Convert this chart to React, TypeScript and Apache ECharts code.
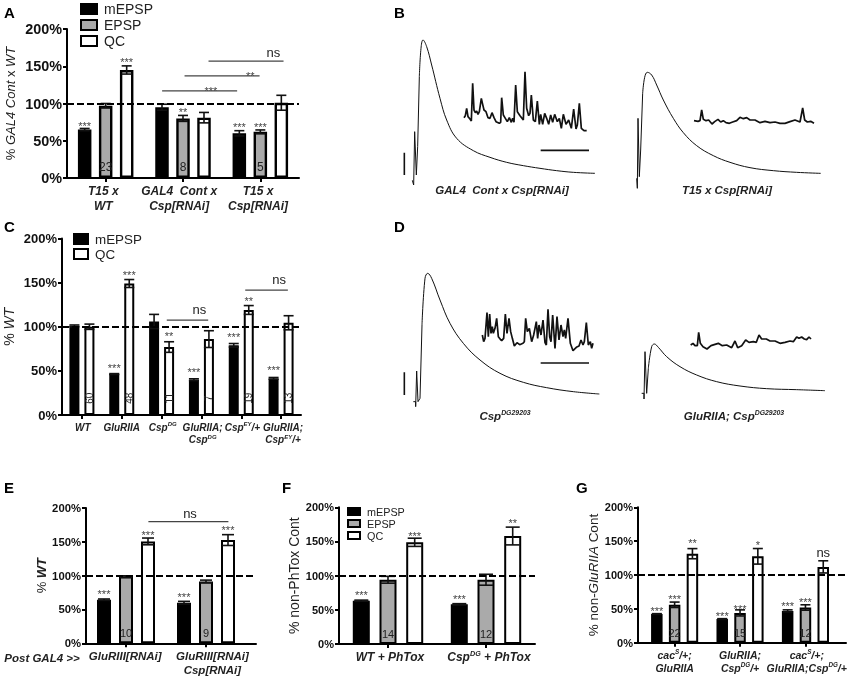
import { useEffect, useRef } from "react";
import * as echarts from "echarts";

const FONT = "Liberation Sans";
const TEXT = "#222";
const COLORS: Record<string, string> = { mEPSP: "#000", EPSP: "#a9aaad", QC: "#fff" };

// panel A
const aMepsp = [65, 95, 60];
const aEpsp = [97, 80, 62];
const aQc = [145, 81, 101];
const aMepspErr = [1.5, 4, 3.5];
const aEpspErr = [3, 4, 2.5];
const aQcErr = [5.5, 7, 10];
const aN = [["23", 0, 1], ["8", 1, 1], ["5", 2, 1]];
const aStars = [["***", 0, 0, 73], ["***", 0, 2, 159], ["**", 1, 1, 91], ["***", 2, 0, 71], ["***", 2, 1, 71]];
const aBrackets = [[0.73, 1.7, 117, "***", 1.36], [1.02, 1.99, 137, "**", 1.87], [1.33, 2.3, 157, "ns", 2.17]];
const aLabels = ["{b|T15 x}\n{b|WT}", "{b|GAL4  Cont x}\n{b|Csp[RNAi]}", "{b|T15 x}\n{b|Csp[RNAi]}"];

// panel C
const cMepsp = [101, 46.4, 106, 40, 79, 41.5];
const cQc = [100, 149, 77, 86, 119, 104.5];
const cMepspErr = [1, 0.5, 8, 1, 2, 1];
const cQcErr = [3, 4.5, 6, 9.5, 5, 8];
const cN = [["60", 0, 1], ["48", 1, 1], ["11", 2, 1], ["7", 3, 1], ["19", 4, 1], ["13", 5, 1]];
const cStars = [["***", 1, 0, 55], ["***", 1, 1, 161], ["**", 2, 1, 92], ["***", 3, 0, 51], ["***", 4, 0, 91], ["**", 4, 1, 132], ["***", 5, 0, 53]];
const cBrackets = [[2.13, 3.17, 107.5, "ns", 2.95], [4.1, 5.17, 141.5, "ns", 4.95]];
const cLabels = ["{b|WT}", "{b|GluRIIA}", "{b|Csp}{s|DG}", "{b|GluRIIA;}\n{b|Csp}{s|DG}", "{b|Csp}{s|EY}{b|/+}", "{b|GluRIIA;}\n{b|Csp}{s|EY}{b|/+}"];

// panel E
const eMepsp = [64.5, 60];
const eEpsp = [98.8, 91.4];
const eQc = [150.6, 152.6];
const eMepspErr = [1, 2];
const eEpspErr = [1, 2];
const eQcErr = [5, 8];
const eN = [["10", 0, 1], ["9", 1, 1]];
const eStars = [["***", 0, 0, 76], ["***", 1, 0, 71.6], ["***", 0, 2, 163], ["***", 1, 2, 170]];
const eBrackets = [[0.28, 1.28, 180, "ns", 0.8]];
const eLabels = ["{b|GluRIII[RNAi]}", "{b|GluRIII[RNAi]}\n{b|Csp[RNAi]}"];

// panel F
const fMepsp = [63.4, 58];
const fEpsp = [94, 94];
const fQc = [148.8, 158];
const fMepspErr = [0.8, 1];
const fEpspErr = [5, 8];
const fQcErr = [6, 13];
const fN = [["14", 0, 1], ["12", 1, 1]];
const fStars = [["***", 0, 0, 75], ["***", 1, 0, 69], ["***", 0, 2, 161], ["**", 1, 2, 180]];
const fLabels = ["{b|WT + PhTox}", "{b|Csp}{s|DG}{b| + PhTox}"];

// panel G
const gMepsp = [42.4, 35, 47];
const gEpsp = [56, 44, 52];
const gQc = [131.5, 127.6, 112];
const gMepspErr = [0.5, 0.5, 1.5];
const gEpspErr = [4, 4.5, 4];
const gQcErr = [7.5, 11.5, 9];
const gN = [["22", 0, 1], ["15", 1, 1], ["12", 2, 1]];
const gStars = [["***", 0, 0, 50], ["***", 1, 0, 42], ["***", 2, 0, 56.6], ["***", 0, 1, 68], ["***", 1, 1, 53], ["***", 2, 1, 63.5], ["**", 0, 2, 150], ["*", 1, 2, 147]];
const gNs = [["ns", 2, 2, 133.5]];
const gLabels = ["{b|cac}{s|S}{b|/+;}\n{b|GluRIIA}", "{b|GluRIIA;}\n{b|Csp}{s|DG}{b|/+}", "{b|cac}{s|S}{b|/+;}\n{b|GluRIIA;Csp}{s|DG}{b|/+}"];

const traceB1 = [[67, 541], [71, 555], [74, 395], [79, 525], [83, 440], [88, 230]];
const decayB1 = [[88, 230], [93, 145], [99, 120], [110, 140], [125, 195], [150, 295], [170, 360], [200, 415], [250, 452], [300, 472], [350, 487], [400, 497], [450, 505], [500, 512], [550, 517], [615, 520]];
const traceB2 = [[740, 535], [742, 565], [744, 355], [748, 530], [752, 450], [758, 280]];
const decayB2 = [[758, 280], [764, 232], [772, 217], [785, 225], [800, 255], [820, 300], [850, 355], [880, 398], [920, 437], [970, 467], [1020, 487], [1080, 503], [1150, 512], [1220, 517], [1292, 520]];
const traceD1 = [[70, 530], [77, 530], [77, 545], [80, 438], [84, 530], [90, 520], [96, 300]];
const decayD1 = [[96, 300], [105, 160], [113, 145], [125, 160], [150, 225], [180, 295], [220, 355], [270, 405], [330, 445], [400, 472], [470, 488], [550, 500], [628, 507]];
const traceD2 = [[755, 505], [762, 505], [762, 522], [765, 380], [770, 505], [775, 430]];
const decayD2 = [[775, 430], [785, 365], [793, 357], [805, 367], [830, 395], [870, 425], [920, 450], [980, 470], [1050, 483], [1130, 491], [1220, 494], [1305, 497]];

const miniB1 = [[12, 158], [16, 152], [20, 130], [24, 155], [30, 162], [34, 168], [38, 55], [42, 135], [46, 143], [50, 138], [54, 148], [58, 140], [64, 100], [68, 118], [72, 135], [78, 140], [84, 158], [90, 160], [96, 143], [102, 158], [108, 170], [118, 175], [122, 172], [125, 98], [130, 150], [136, 160], [142, 170], [148, 158], [154, 172], [158, 160], [162, 172], [167, 60], [172, 140], [180, 152], [190, 165], [195, 20], [200, 130], [206, 152], [210, 145], [214, 90], [220, 165], [226, 170], [232, 108], [238, 178], [242, 148], [248, 178], [254, 145], [260, 160], [266, 178], [272, 150], [278, 172], [284, 148], [292, 170], [298, 160], [304, 190], [310, 148], [318, 178], [326, 165], [334, 190], [341, 132], [348, 192], [352, 180], [358, 115], [364, 190], [372, 197], [380, 197]];
const miniB2 = [[12, 62], [24, 64], [30, 62], [35, 30], [40, 58], [48, 62], [56, 60], [66, 72], [74, 65], [84, 58], [92, 66], [100, 62], [108, 68], [118, 70], [128, 66], [140, 62], [150, 52], [160, 56], [170, 53], [180, 60], [195, 60], [210, 68], [225, 64], [240, 68], [255, 66], [270, 70], [285, 70], [300, 65], [315, 60], [330, 66], [338, 24], [344, 60], [352, 66], [362, 64], [372, 70]];
const miniD1 = [[22, 105], [26, 125], [30, 115], [36, 38], [40, 110], [44, 42], [48, 100], [52, 80], [55, 100], [60, 85], [65, 55], [70, 110], [76, 118], [80, 122], [86, 115], [91, 42], [96, 100], [102, 55], [107, 95], [112, 115], [118, 138], [126, 128], [134, 134], [144, 130], [148, 125], [152, 55], [157, 95], [163, 85], [170, 125], [176, 105], [180, 85], [184, 65], [188, 115], [192, 75], [198, 105], [204, 60], [210, 128], [214, 135], [219, 28], [224, 110], [228, 125], [233, 45], [240, 145], [246, 50], [252, 120], [258, 75], [264, 110], [268, 90], [272, 115], [279, 55], [286, 130], [294, 152], [304, 142], [312, 138], [318, 120], [324, 135], [328, 125], [334, 68], [340, 135], [346, 125], [350, 145], [354, 130]];
const miniD2 = [[17, 60], [24, 55], [30, 62], [37, 62], [41, 22], [46, 55], [54, 65], [66, 72], [78, 62], [90, 58], [100, 55], [112, 62], [125, 60], [140, 68], [150, 48], [158, 68], [170, 62], [182, 45], [192, 52], [205, 50], [214, 52], [222, 30], [230, 42], [244, 42], [255, 48], [270, 48], [285, 55], [300, 52], [315, 48], [325, 50], [335, 36], [342, 40], [350, 36], [358, 42], [365, 44], [372, 36], [378, 42]];

const shift = (pts: number[][], dx: number, dy: number) => pts.map((p) => [p[0] + dx, p[1] + dy]);

const rich = (size: number) => ({
  b: { fontFamily: FONT, fontWeight: "bold", fontStyle: "italic", fontSize: size, color: TEXT, lineHeight: size + 2.5 },
  s: { fontFamily: FONT, fontWeight: "bold", fontStyle: "italic", fontSize: size * 0.6, color: TEXT, verticalAlign: "top", lineHeight: size + 2.5 },
  r: { fontFamily: FONT, fontSize: size, color: TEXT },
  i: { fontFamily: FONT, fontStyle: "italic", fontSize: size, color: TEXT },
  ib: { fontFamily: FONT, fontStyle: "italic", fontWeight: "bold", fontSize: size, color: TEXT },
});

type Panel = {
  box: number[]; // left, right, top, bottom
  range: number[];
  names: string[];
  values: number[][];
  errs: number[][];
  spacing: number; // px between bars
  barWidth: number;
  border: number;
  capHalf: number;
  tickSize: number;
  labelSize: number;
  labels: string[];
  labelAt: number[];
  yName: string;
  yNameSize: number;
  yNameGap: number;
  nums: any[];
  numSize: number;
  numRotate?: boolean;
  stars: any[];
  brackets?: any[];
  extraNs?: any[];
};

const panels: Panel[] = [
  {
    box: [67, 299, 29, 178], range: [-0.5, 2.5], names: ["mEPSP", "EPSP", "QC"],
    values: [aMepsp, aEpsp, aQc], errs: [aMepspErr, aEpspErr, aQcErr],
    spacing: 21, barWidth: 13.5, border: 2.4, capHalf: 5, tickSize: 14.4, labelSize: 12, labels: aLabels, labelAt: [-0.03, -0.05, -0.03],
    yName: "{r|% }{i|GAL4 Cont}{r| x }{i|WT}", yNameSize: 13, yNameGap: 50,
    nums: aN, numSize: 12, stars: aStars, brackets: aBrackets,
  },
  {
    box: [62, 301, 238.5, 415], range: [-0.5, 5.5], names: ["mEPSP", "QC"],
    values: [cMepsp, cQc], errs: [cMepspErr, cQcErr],
    spacing: 15, barWidth: 10, border: 2, capHalf: 5, tickSize: 13, labelSize: 10, labels: cLabels, labelAt: [0.02, 0, 0.03, 0.03, 0.03, 0.05],
    yName: "{r|% }{i|WT}", yNameSize: 14, yNameGap: 46,
    nums: cN, numSize: 10, numRotate: true, stars: cStars, brackets: cBrackets,
  },
  {
    box: [86, 256, 508, 643.3], range: [-0.5, 1.625], names: ["mEPSP", "EPSP", "QC"],
    values: [eMepsp, eEpsp, eQc], errs: [eMepspErr, eEpspErr, eQcErr],
    spacing: 22, barWidth: 14, border: 2, capHalf: 6, tickSize: 11.3, labelSize: 11.5, labels: eLabels, labelAt: [-0.01, 0.08],
    yName: "{r|% }{ib|WT}", yNameSize: 13, yNameGap: 38,
    nums: eN, numSize: 11, stars: eStars, brackets: eBrackets,
  },
  {
    box: [339, 535, 507.3, 644], range: [-0.5, 1.5], names: ["mEPSP", "EPSP", "QC"],
    values: [fMepsp, fEpsp, fQc], errs: [fMepspErr, fEpspErr, fQcErr],
    spacing: 26.7, barWidth: 17, border: 2, capHalf: 7, tickSize: 11, labelSize: 12, labels: fLabels, labelAt: [0.02, 0.03],
    yName: "{r|% non-PhTox Cont}", yNameSize: 14, yNameGap: 38,
    nums: fN, numSize: 11, stars: fStars,
  },
  {
    box: [638, 846, 507.3, 642.7], range: [-0.56, 2.62], names: ["mEPSP", "EPSP", "QC"],
    values: [gMepsp, gEpsp, gQc], errs: [gMepspErr, gEpspErr, gQcErr],
    spacing: 17.8, barWidth: 11.5, border: 2, capHalf: 5, tickSize: 11, labelSize: 10.5, labels: gLabels, labelAt: [0, 0, 0.02],
    yName: "{r|% non-}{i|GluRIIA}{r| Cont}", yNameSize: 13.5, yNameGap: 36,
    nums: gN, numSize: 11, stars: gStars, extraNs: gNs,
  },
];

const legendItem = (name: string) => ({
  name,
  icon: "rect",
  itemStyle: { color: COLORS[name], borderColor: "#000", borderWidth: 2 },
});

function buildOption() {
  const grid: any[] = [];
  const xAxis: any[] = [];
  const yAxis: any[] = [];
  const series: any[] = [];

  panels.forEach((p, k) => {
    const [left, right, top, bottom] = p.box;
    // outerBoundsMode none: keep the grid where it is asked to be
    grid.push({ left, top, width: right - left, height: bottom - top, outerBoundsMode: "none" });
    const catPx = (right - left) / (p.range[1] - p.range[0]);
    const n = p.names.length;
    const barX = (x: number, i: number) => x + ((i - (n - 1) / 2) * p.spacing) / catPx;
    const ticks = p.values[0].map((_, i) => i);
    const labelValues = p.labelAt.map((d, i) => i + d);

    xAxis.push({
      gridIndex: k, type: "value", min: p.range[0], max: p.range[1],
      splitLine: { show: false },
      axisLine: { onZero: false, lineStyle: { color: "#000", width: 2 } },
      axisTick: { customValues: ticks, length: 4, lineStyle: { color: "#000", width: 2 } },
      axisLabel: {
        customValues: labelValues,
        hideOverlap: false, margin: 6, rich: rich(p.labelSize),
        formatter: (v: number) => p.labels[labelValues.findIndex((l) => Math.abs(l - v) < 1e-6)] ?? "",
      },
    });
    yAxis.push({
      gridIndex: k, type: "value", min: 0, max: 200, interval: 50,
      name: p.yName, nameLocation: "middle", nameRotate: 90, nameGap: p.yNameGap,
      nameTextStyle: { rich: rich(p.yNameSize) },
      splitLine: { show: false },
      axisLine: { show: true, onZero: false, lineStyle: { color: "#000", width: 2 } },
      axisTick: { show: true, length: 4, lineStyle: { color: "#000", width: 2 } },
      axisLabel: {
        formatter: "{value}%", margin: 5, color: "#111",
        fontFamily: FONT, fontWeight: "bold", fontSize: p.tickSize,
      },
    });

    p.names.forEach((name, i) => {
      series.push({
        type: "bar", name, xAxisIndex: k, yAxisIndex: k,
        data: p.values[i].map((v, j) => [j, v]),
        barWidth: p.barWidth,
        barGap: `${((p.spacing - p.barWidth) / p.barWidth) * 100}%`,
        itemStyle: { color: COLORS[name], borderColor: "#000", borderWidth: p.border },
        markLine: i === 0 ? {
          silent: true, symbol: "none", label: { show: false },
          lineStyle: { color: "#000", width: 2, type: [7, 3] },
          data: [{ yAxis: 100 }],
        } : undefined,
      });

      // error bars sit on the same value axes as the bars
      const errRows = p.values[i].map((v, j) => [barX(j, i), v - p.errs[i][j], v + p.errs[i][j]]);
      series.push({
        type: "custom", xAxisIndex: k, yAxisIndex: k, z: 4, silent: true,
        data: errRows, encode: { x: 0, y: [1, 2] },
        renderItem: (_: any, api: any) => {
          const a = api.coord([api.value(0), api.value(1)]);
          const b = api.coord([api.value(0), api.value(2)]);
          const st = { stroke: "#111", lineWidth: 1.6, fill: "none" };
          const c = p.capHalf;
          return {
            type: "group",
            children: [
              { type: "line", shape: { x1: a[0], y1: a[1], x2: b[0], y2: b[1] }, style: st },
              { type: "line", shape: { x1: a[0] - c, y1: a[1], x2: a[0] + c, y2: a[1] }, style: st },
              { type: "line", shape: { x1: b[0] - c, y1: b[1], x2: b[0] + c, y2: b[1] }, style: st },
            ],
          };
        },
      });
    });

    const textSeries = (rows: number[][], texts: string[], style: any, rotate = false) => ({
      type: "custom", xAxisIndex: k, yAxisIndex: k, z: 5, silent: true,
      data: rows, encode: { x: 0, y: 1 },
      renderItem: (params: any, api: any) => {
        const c = api.coord([api.value(0), api.value(1)]);
        return {
          type: "text", x: c[0], y: c[1] + (style.dy || 0), rotation: rotate ? Math.PI / 2 : 0,
          style: { text: texts[params.dataIndex], align: "center", verticalAlign: "middle", fontFamily: FONT, fill: style.fill, fontSize: style.size },
        };
      },
    });

    series.push(textSeries(
      p.stars.map((s) => [barX(s[1], s[2]), s[3]]), p.stars.map((s) => s[0]),
      { size: 11, fill: "#444", dy: 2 },
    ));
    series.push(textSeries(
      p.nums.map((s) => [barX(s[1], s[2]), p.numRotate ? 19 : 15]), p.nums.map((s) => s[0]),
      { size: p.numSize, fill: "#222" }, p.numRotate,
    ));
    if (p.extraNs) {
      series.push(textSeries(
        p.extraNs.map((s) => [barX(s[1], s[2]), s[3]]), p.extraNs.map((s) => s[0]),
        { size: 13, fill: TEXT },
      ));
    }
    if (p.brackets) {
      const ns = p.brackets.filter((b) => b[3] === "ns");
      const sig = p.brackets.filter((b) => b[3] !== "ns");
      series.push({
        type: "custom", xAxisIndex: k, yAxisIndex: k, z: 4, silent: true,
        data: p.brackets.map((b) => [b[0], b[1], b[2]]), encode: { x: [0, 1], y: 2 },
        renderItem: (_: any, api: any) => {
          const a = api.coord([api.value(0), api.value(2)]);
          const b = api.coord([api.value(1), api.value(2)]);
          return { type: "line", shape: { x1: a[0], y1: a[1], x2: b[0], y2: b[1] }, style: { stroke: "#444", lineWidth: 1.3 } };
        },
      });
      series.push(textSeries(ns.map((b) => [b[4], b[2] + 12]), ns.map((b) => b[3]), { size: 13, fill: TEXT }));
      series.push(textSeries(sig.map((b) => [b[4], b[2] + 3]), sig.map((b) => b[3]), { size: 11, fill: "#444", dy: 2 }));
    }
  });

  // traces: one grid for B, one for D, axes hidden
  const traceGrids = [
    { top: 0, lines: [traceB1, traceB2], decays: [decayB1, decayB2], minis: [shift(miniB1, 210, 195), shift(miniB2, 900, 300)], scale: [[[43, 458], [43, 525]], [[452, 451], [597, 451]]] },
    { top: 225, lines: [traceD1, traceD2], decays: [decayD1, decayD2], minis: [shift(miniD1, 255, 225), shift(miniD2, 885, 300)], scale: [[[43, 442], [43, 510]], [[452, 414], [597, 414]]] },
  ];
  traceGrids.forEach((t, i) => {
    const k = panels.length + i;
    grid.push({ left: 390, top: t.top, width: 460, height: 215, outerBoundsMode: "none" });
    xAxis.push({ gridIndex: k, type: "value", min: 0, max: 1380, show: false });
    yAxis.push({ gridIndex: k, type: "value", min: 0, max: 645, inverse: true, show: false });
    const line = (data: number[][], width: number, smooth: any = false) => ({
      type: "line", xAxisIndex: k, yAxisIndex: k, data, smooth, symbol: "none", silent: true,
      lineStyle: { color: "#111", width },
    });
    t.lines.forEach((d) => series.push(line(d, 1)));
    t.decays.forEach((d) => series.push(line(d, 1, 0.4)));
    t.minis.forEach((d) => series.push(line(d, 1.7)));
    t.scale.forEach((d) => series.push(line(d, 1.6)));
  });

  const legend = [
    { left: 80, top: 2, itemWidth: 16, itemHeight: 10, itemGap: 2, names: ["mEPSP", "EPSP", "QC"], size: 14 },
    { left: 73, top: 232.5, itemWidth: 14, itemHeight: 10, itemGap: 2, names: ["mEPSP", "QC"], size: 13.4 },
    { left: 347, top: 506, itemWidth: 12, itemHeight: 7, itemGap: 1, names: ["mEPSP", "EPSP", "QC"], size: 10.8 },
  ].map((l) => ({
    orient: "vertical", left: l.left, top: l.top, padding: 0, selectedMode: false,
    itemWidth: l.itemWidth, itemHeight: l.itemHeight, itemGap: l.itemGap,
    data: l.names.map(legendItem),
    textStyle: { fontFamily: FONT, fontSize: l.size, color: TEXT, padding: [0, 0, 0, 2] },
  }));

  const letter = (text: string, x: number, y: number) => ({
    type: "text", x, y, style: { text, fontFamily: FONT, fontWeight: "bold", fontSize: 15, fill: "#000", verticalAlign: "middle" },
  });
  const caption = (text: string, x: number, y: number, size = 11.5) => ({
    type: "text", x, y, style: { text, rich: rich(size), fontFamily: FONT, fontWeight: "bold", fontStyle: "italic", fontSize: size, fill: TEXT, align: "center", verticalAlign: "middle" },
  });
  const graphic = [
    letter("A", 4, 12), letter("B", 394, 12), letter("C", 4, 226), letter("D", 394, 226),
    letter("E", 4, 487), letter("F", 282, 487), letter("G", 576, 487),
    caption("{b|GAL4  Cont x Csp[RNAi]}", 502, 190),
    caption("{b|T15 x Csp[RNAi]}", 727, 190),
    caption("{b|Csp}{s|DG29203}", 505, 416),
    caption("{b|GluRIIA; Csp}{s|DG29203}", 734, 416),
    caption("{b|Post GAL4 >>}", 42, 658),
  ];

  return { animation: false, backgroundColor: "#fff", grid, xAxis, yAxis, series, legend, graphic };
}

export default function App() {
  const chartRef = useRef<HTMLDivElement>(null);

  useEffect(() => {
    const chart = echarts.init(chartRef.current!, null, { renderer: "svg" });
    chart.setOption(buildOption() as any);
    return () => {
      chart.dispose();
    };
  }, []);

  return <div ref={chartRef} style={{ position: "absolute", left: 0, top: 0, width: 850, height: 681, filter: "grayscale(1)" }} />;
}
